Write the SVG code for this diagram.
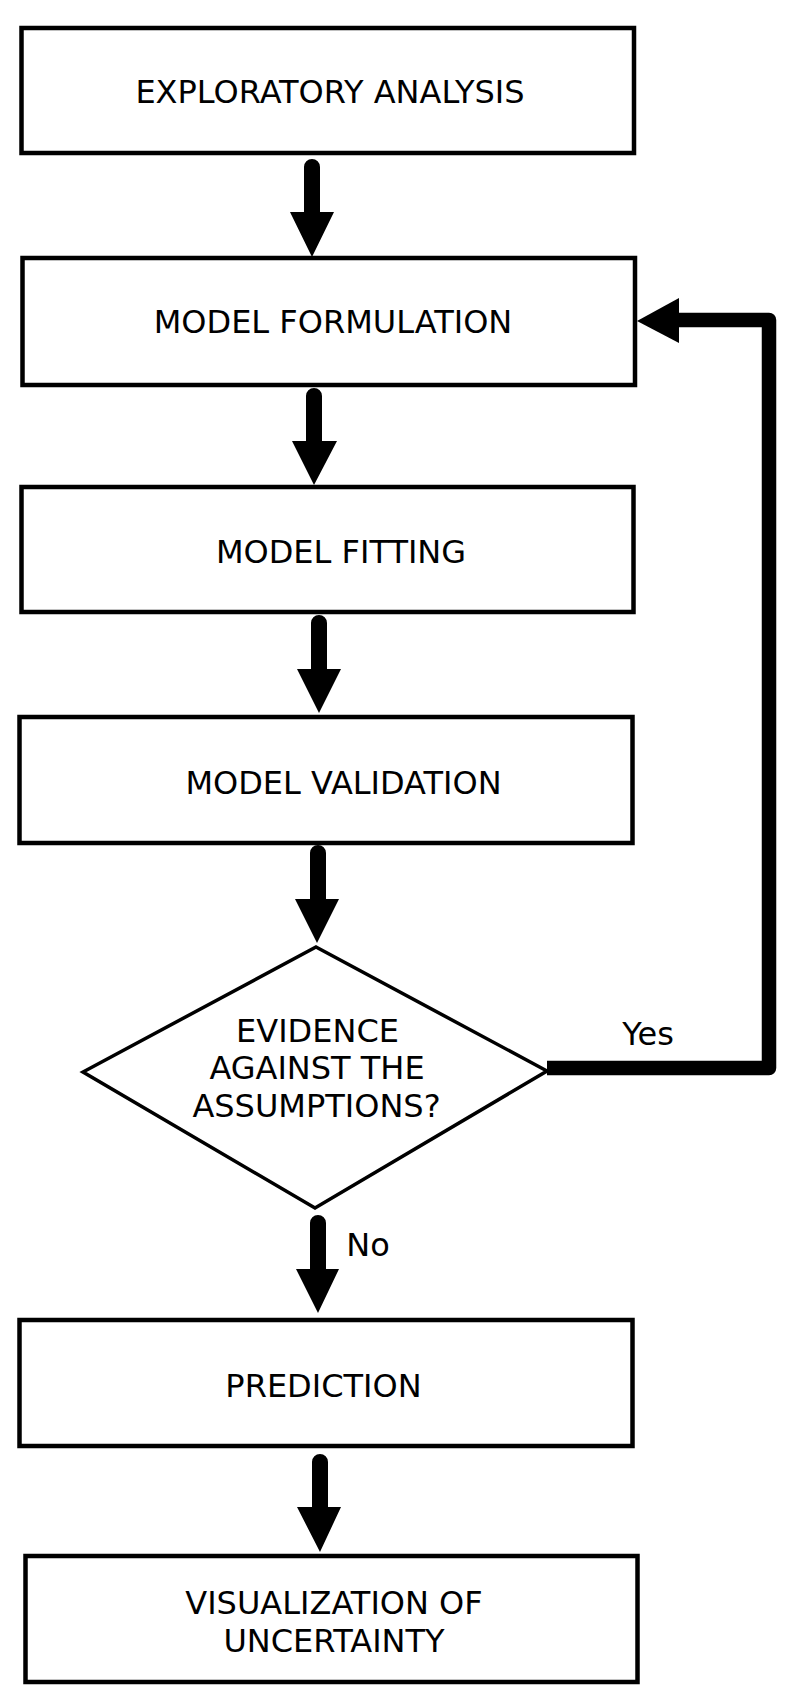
<svg xmlns="http://www.w3.org/2000/svg" width="800" height="1705" viewBox="0 0 800 1705">
<style>
.box{fill:#fff;stroke:#000;stroke-width:4.5}
.dia{fill:#fff;stroke:#000;stroke-width:3.5}
.t{font-family:"DejaVu Sans",sans-serif;font-size:32px;fill:#000;text-anchor:middle}
.lbl{font-family:"DejaVu Sans",sans-serif;font-size:32px;fill:#000;text-anchor:middle}
.ar{fill:#000;stroke:none}
.loop{fill:none;stroke:#000;stroke-width:14.5;stroke-linejoin:round}
</style>
<rect width="800" height="1705" fill="#fff"/>
<g id="connectors">
<path class="ar" d="M304,167 A8,8 0 0 1 320,167 L320,212 L334,212 L312,257 L290,212 L304,212 Z"/>
<path class="ar" d="M306,396 A8,8 0 0 1 322,396 L322,441 L337,441 L314,485 L292,441 L306,441 Z"/>
<path class="ar" d="M311,623 A8,8 0 0 1 327,623 L327,669 L341,669 L319,713 L297,669 L311,669 Z"/>
<path class="ar" d="M310,853 A8,8 0 0 1 326,853 L326,899 L339,899 L317,943 L295,899 L310,899 Z"/>
<path class="ar" d="M310,1223 A8,8 0 0 1 326,1223 L326,1269 L339,1269 L318,1313 L296,1269 L310,1269 Z"/>
<path class="ar" d="M312,1462 A8,8 0 0 1 328,1462 L328,1507 L341,1507 L320,1552 L297,1507 L312,1507 Z"/>
<path class="loop" d="M547,1068 L769,1068 L769,320 L676,320"/>
<path class="ar" d="M679,298 L637,321 L679,343 Z"/>
<text class="lbl" x="648" y="1045">Yes</text>
<text class="lbl" x="368" y="1256">No</text>
</g>
<g id="n1">
<rect class="box" x="21.5" y="28" width="612.5" height="125"/>
<text class="t" x="330" y="103">EXPLORATORY ANALYSIS</text>
</g>
<g id="n2">
<rect class="box" x="22.5" y="258" width="612.5" height="127"/>
<text class="t" x="333" y="333">MODEL FORMULATION</text>
</g>
<g id="n3">
<rect class="box" x="21.5" y="487" width="612" height="125"/>
<text class="t" x="341" y="563">MODEL FITTING</text>
</g>
<g id="n4">
<rect class="box" x="19.5" y="717" width="613" height="126"/>
<text class="t" x="343.5" y="794">MODEL VALIDATION</text>
</g>
<g id="n5">
<polygon class="dia" points="316,947 547,1071 315,1208 83,1072"/>
<text class="t" x="317.5" y="1042">EVIDENCE</text>
<text class="t" x="317" y="1079">AGAINST THE</text>
<text class="t" x="316.5" y="1117">ASSUMPTIONS?</text>
</g>
<g id="n6">
<rect class="box" x="19.5" y="1320" width="613" height="126"/>
<text class="t" x="323.5" y="1397">PREDICTION</text>
</g>
<g id="n7">
<rect class="box" x="25.5" y="1556" width="612" height="126"/>
<text class="t" x="334" y="1614">VISUALIZATION OF</text>
<text class="t" x="334" y="1652">UNCERTAINTY</text>
</g>
</svg>
